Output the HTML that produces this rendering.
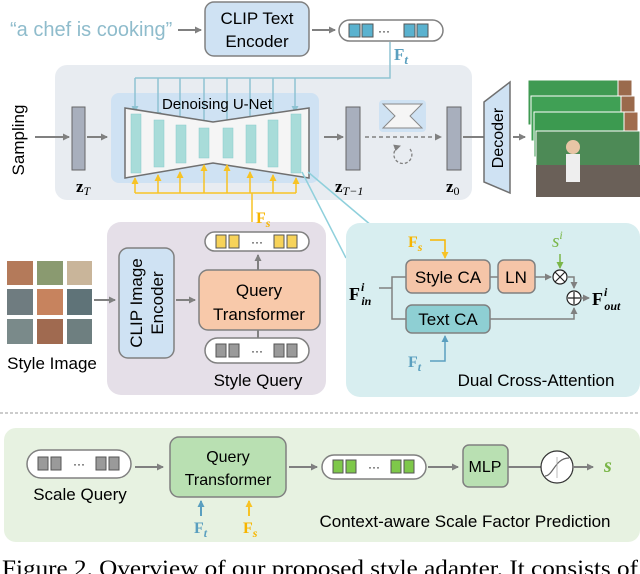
<!DOCTYPE html>
<html><head><meta charset="utf-8"><style>
html,body{margin:0;padding:0;background:#fff;width:640px;height:574px;overflow:hidden}
svg{display:block}
text{font-family:"Liberation Sans",sans-serif}
text.m{font-family:"Liberation Serif",serif;font-weight:bold}
text.sf{font-family:"Liberation Serif",serif}
</style></head><body>
<svg width="640" height="574" viewBox="0 0 640 574" xmlns="http://www.w3.org/2000/svg">
<defs>
<marker id="ag" markerWidth="8" markerHeight="8" refX="6" refY="4" orient="auto" markerUnits="userSpaceOnUse"><path d="M0,0.5 L7,4 L0,7.5z" fill="#808080"/></marker>
<marker id="ab" markerWidth="8" markerHeight="8" refX="6" refY="4" orient="auto" markerUnits="userSpaceOnUse"><path d="M0,0.5 L7,4 L0,7.5z" fill="#8fc3d3"/></marker>
<marker id="ab2" markerWidth="8" markerHeight="8" refX="6" refY="4" orient="auto" markerUnits="userSpaceOnUse"><path d="M0,0.5 L7,4 L0,7.5z" fill="#5a9fbf"/></marker>
<marker id="ay" markerWidth="8" markerHeight="8" refX="6" refY="4" orient="auto" markerUnits="userSpaceOnUse"><path d="M0,0.5 L7,4 L0,7.5z" fill="#f7c325"/></marker>
<marker id="agr" markerWidth="8" markerHeight="8" refX="6" refY="4" orient="auto" markerUnits="userSpaceOnUse"><path d="M0,0.5 L7,4 L0,7.5z" fill="#7ab648"/></marker>
</defs>

<text x="10" y="36" font-size="20" fill="#8fbccc">“a chef is cooking”</text>
<line x1="178" y1="30" x2="201" y2="30" stroke="#808080" stroke-width="2" marker-end="url(#ag)"/>
<rect x="205" y="2" width="104" height="54" rx="9" fill="#cfe2f3" stroke="#808080" stroke-width="1.5"/>
<text x="257" y="24" font-size="17" text-anchor="middle">CLIP Text</text>
<text x="257" y="47" font-size="17" text-anchor="middle">Encoder</text>
<line x1="312" y1="30" x2="335" y2="30" stroke="#808080" stroke-width="2" marker-end="url(#ag)"/>
<rect x="339" y="20" width="104" height="21" rx="10.5" fill="#fff" stroke="#808080" stroke-width="1.5"/>
<rect x="349" y="24" width="11" height="13" fill="#5ab2cf" stroke="#555"/><rect x="362" y="24" width="11" height="13" fill="#5ab2cf" stroke="#555"/>
<text x="384" y="35" font-size="12" text-anchor="middle">···</text>
<rect x="404" y="24" width="11" height="13" fill="#5ab2cf" stroke="#555"/><rect x="417" y="24" width="11" height="13" fill="#5ab2cf" stroke="#555"/>
<text x="394" y="60" font-size="17" class="m" fill="#5a9fbf">F<tspan font-style="italic" font-size="13" dy="4">t</tspan></text>

<rect x="55" y="65" width="417" height="135" rx="12" fill="#e8ecf1"/>
<rect x="111" y="93" width="208" height="90" rx="8" fill="#cfe2f3"/>
<polyline points="390,42 390,78 135,78" fill="none" stroke="#8fc3d3" stroke-width="1.5"/>
<g stroke="#8fc3d3" stroke-width="1.5" marker-end="url(#ab)">
<line x1="135" y1="78" x2="135" y2="112"/><line x1="158" y1="78" x2="158" y2="118"/><line x1="180" y1="78" x2="180" y2="123"/><line x1="204" y1="78" x2="204" y2="126"/>
<line x1="227" y1="78" x2="227" y2="126"/><line x1="250" y1="78" x2="250" y2="123"/><line x1="273" y1="78" x2="273" y2="118"/><line x1="295" y1="78" x2="295" y2="112"/>
</g>
<text x="217" y="109" font-size="15" text-anchor="middle">Denoising U-Net</text>
<polygon points="125,108 213,122 309,108 309,178 213,163 125,178" fill="#f5f5f5" stroke="#707070" stroke-width="1.5"/>
<g fill="#a8dcd9" stroke="#8cc" stroke-width="0.5">
<rect x="131" y="114" width="10" height="59"/><rect x="154" y="120" width="10" height="47"/><rect x="176" y="125" width="10" height="38"/><rect x="199" y="128" width="10" height="30"/>
<rect x="223" y="128" width="10" height="30"/><rect x="246" y="125" width="10" height="38"/><rect x="268" y="120" width="10" height="47"/><rect x="291" y="114" width="10" height="59"/>
</g>
<polyline points="135,193 296,193" fill="none" stroke="#f7c325" stroke-width="1.5"/>
<line x1="252" y1="232" x2="252" y2="193" stroke="#f7c325" stroke-width="1.5"/>
<g stroke="#f7c325" stroke-width="1.5" marker-end="url(#ay)">
<line x1="135" y1="193" x2="135" y2="178"/><line x1="158" y1="193" x2="158" y2="175"/><line x1="180" y1="193" x2="180" y2="172"/><line x1="204" y1="193" x2="204" y2="165"/>
<line x1="227" y1="193" x2="227" y2="165"/><line x1="250" y1="193" x2="250" y2="172"/><line x1="273" y1="193" x2="273" y2="175"/><line x1="296" y1="193" x2="296" y2="178"/>
</g>
<text transform="translate(24,140) rotate(-90)" font-size="17" text-anchor="middle">Sampling</text>
<line x1="35" y1="137" x2="69" y2="137" stroke="#808080" stroke-width="2" marker-end="url(#ag)"/>
<rect x="72" y="107" width="13" height="63" fill="#a8afbd" stroke="#666"/>
<line x1="87" y1="137" x2="107" y2="137" stroke="#808080" stroke-width="2" marker-end="url(#ag)"/>
<text x="76" y="192" font-size="17" class="m">z<tspan font-style="italic" font-weight="normal" font-size="12" dy="3">T</tspan></text>
<line x1="324" y1="137" x2="343" y2="137" stroke="#808080" stroke-width="2" marker-end="url(#ag)"/>
<rect x="346" y="107" width="14" height="63" fill="#a8afbd" stroke="#666"/>
<text x="335" y="192" font-size="17" class="m">z<tspan font-style="italic" font-weight="normal" font-size="12" dy="3">T−1</tspan></text>
<rect x="379" y="100" width="47" height="32" rx="4" fill="#cfe2f3"/>
<polygon points="383,104 422,104 410,116 422,128 383,128 395,116" fill="#f5f5f5" stroke="#888"/>
<line x1="365" y1="137" x2="441" y2="137" stroke="#808080" stroke-width="1.5" stroke-dasharray="4,3" marker-end="url(#ag)"/>
<path d="M410,149 A9,9 0 1,1 400,146" fill="none" stroke="#808080" stroke-width="1.3" stroke-dasharray="3,2" marker-end="url(#ag)"/>
<rect x="447" y="107" width="14" height="63" fill="#a8afbd" stroke="#666"/>
<text x="446" y="192" font-size="17" class="m">z<tspan font-weight="normal" font-size="12" dy="3">0</tspan></text>
<line x1="463" y1="137" x2="484" y2="137" stroke="#808080" stroke-width="2"/>
<polygon points="484,102 510,82 510,193 484,182" fill="#cfe2f3" stroke="#707070" stroke-width="1.5"/>
<text transform="translate(503,138) rotate(-90)" font-size="16" text-anchor="middle">Decoder</text>
<line x1="513" y1="137" x2="525" y2="137" stroke="#808080" stroke-width="2" marker-end="url(#ag)"/>
<g stroke="#fff" stroke-width="1">
<rect x="528" y="80" width="104" height="45" fill="#3f9a52"/><rect x="618" y="80" width="14" height="45" fill="#9a6a4c"/>
<rect x="531" y="96" width="104" height="45" fill="#40a055"/><rect x="621" y="96" width="14" height="45" fill="#9a6a4c"/>
<rect x="534" y="112" width="104" height="45" fill="#3c9a50"/><rect x="624" y="112" width="14" height="45" fill="#a06c4d"/>
<rect x="536" y="131" width="104" height="66" fill="#4d8a56"/>
</g>
<rect x="536" y="165" width="104" height="32" fill="#6a6058"/>
<circle cx="573" cy="147" r="7" fill="#e8c5a5"/><rect x="566" y="154" width="14" height="28" fill="#eee"/>

<line x1="302" y1="172" x2="346" y2="258" stroke="#8fd0dc" stroke-width="1.5"/>
<line x1="308" y1="172" x2="372" y2="226" stroke="#8fd0dc" stroke-width="1.5"/>

<rect x="107" y="222" width="219" height="173" rx="14" fill="#e5dfe8"/>
<g stroke="#fff" stroke-width="2">
<rect x="6" y="260" width="28" height="26" fill="#b47a5a"/><rect x="36" y="260" width="28" height="26" fill="#8a9a70"/><rect x="66" y="260" width="27" height="26" fill="#c9b59a"/>
<rect x="6" y="288" width="28" height="28" fill="#6f7c80"/><rect x="36" y="288" width="28" height="28" fill="#c7835e"/><rect x="66" y="288" width="27" height="28" fill="#5f7378"/>
<rect x="6" y="318" width="28" height="27" fill="#7a8a8a"/><rect x="36" y="318" width="28" height="27" fill="#a06a50"/><rect x="66" y="318" width="27" height="27" fill="#6e7f80"/>
</g>
<text x="52" y="369" font-size="17" text-anchor="middle">Style Image</text>
<line x1="94" y1="300" x2="115" y2="300" stroke="#808080" stroke-width="2" marker-end="url(#ag)"/>
<rect x="119" y="248" width="55" height="110" rx="9" fill="#cfe2f3" stroke="#808080" stroke-width="1.5"/>
<text transform="translate(142,303) rotate(-90)" font-size="17" text-anchor="middle">CLIP Image</text>
<text transform="translate(163,303) rotate(-90)" font-size="17" text-anchor="middle">Encoder</text>
<line x1="176" y1="300" x2="195" y2="300" stroke="#808080" stroke-width="2" marker-end="url(#ag)"/>
<rect x="199" y="270" width="121" height="60" rx="9" fill="#f8c9aa" stroke="#808080" stroke-width="1.5"/>
<text x="259" y="296" font-size="17" text-anchor="middle">Query</text>
<text x="259" y="320" font-size="17" text-anchor="middle">Transformer</text>
<rect x="205" y="232" width="104" height="19" rx="9.5" fill="#fff" stroke="#808080" stroke-width="1.5"/>
<rect x="216" y="235" width="10" height="13" fill="#f7d35a" stroke="#555"/><rect x="229" y="235" width="10" height="13" fill="#f7d35a" stroke="#555"/>
<text x="257" y="246" font-size="12" text-anchor="middle">···</text>
<rect x="274" y="235" width="10" height="13" fill="#f7d35a" stroke="#555"/><rect x="287" y="235" width="10" height="13" fill="#f7d35a" stroke="#555"/>
<line x1="258" y1="270" x2="258" y2="255" stroke="#808080" stroke-width="2" marker-end="url(#ag)"/>
<text x="256" y="223" font-size="16" class="m" fill="#f7b500">F<tspan font-style="italic" font-size="12" dy="4">s</tspan></text>
<line x1="258" y1="330" x2="258" y2="338" stroke="#808080" stroke-width="2"/>
<rect x="205" y="338" width="104" height="25" rx="12.5" fill="#fff" stroke="#808080" stroke-width="1.5"/>
<rect x="216" y="344" width="10" height="13" fill="#9a9a9a" stroke="#555"/><rect x="229" y="344" width="10" height="13" fill="#9a9a9a" stroke="#555"/>
<text x="257" y="355" font-size="12" text-anchor="middle">···</text>
<rect x="274" y="344" width="10" height="13" fill="#9a9a9a" stroke="#555"/><rect x="287" y="344" width="10" height="13" fill="#9a9a9a" stroke="#555"/>
<text x="258" y="386" font-size="17" text-anchor="middle">Style Query</text>

<rect x="346" y="223" width="294" height="174" rx="14" fill="#d8eef0"/>
<text x="349" y="300" font-size="18" class="m">F<tspan font-style="italic" font-size="12" dx="1" dy="-9">i</tspan><tspan font-style="italic" font-size="12" dx="-3" dy="14">in</tspan></text>
<polyline points="379,288 392,288" stroke="#808080" stroke-width="1.5" fill="none"/>
<polyline points="406,277 392,277 392,319 406,319" stroke="#808080" stroke-width="1.5" fill="none"/>
<rect x="406" y="260" width="84" height="33" rx="6" fill="#f5c5a8" stroke="#808080" stroke-width="1.5"/>
<text x="448" y="283" font-size="17" text-anchor="middle">Style CA</text>
<line x1="490" y1="277" x2="498" y2="277" stroke="#808080" stroke-width="1.5"/>
<rect x="498" y="260" width="37" height="33" rx="6" fill="#f5c5a8" stroke="#808080" stroke-width="1.5"/>
<text x="516" y="283" font-size="17" text-anchor="middle">LN</text>
<line x1="535" y1="277" x2="551" y2="277" stroke="#808080" stroke-width="1.5" marker-end="url(#ag)"/>
<text x="408" y="247" font-size="16" class="m" fill="#f7b500">F<tspan font-style="italic" font-size="12" dy="4">s</tspan></text>
<polyline points="430,240 445,240 445,258" stroke="#f7b500" stroke-width="1.5" fill="none" marker-end="url(#ay)"/>
<rect x="406" y="305" width="84" height="28" rx="6" fill="#8ecfd3" stroke="#808080" stroke-width="1.5"/>
<text x="448" y="325" font-size="17" text-anchor="middle">Text CA</text>
<text x="408" y="367" font-size="16" class="m" fill="#5a9fbf">F<tspan font-style="italic" font-size="12" dy="4">t</tspan></text>
<polyline points="430,361 445,361 445,336" stroke="#5a9fbf" stroke-width="1.5" fill="none" marker-end="url(#ab2)"/>
<text x="552" y="247" font-size="19" class="sf" font-style="italic" fill="#7ab648">s<tspan font-size="12" dy="-8">i</tspan></text>
<line x1="560" y1="254" x2="560" y2="268" stroke="#7ab648" stroke-width="1.5" marker-end="url(#agr)"/>
<circle cx="560" cy="277" r="7" fill="#fff" stroke="#222" stroke-width="1.2"/>
<path d="M555,272 L565,282 M565,272 L555,282" stroke="#222" stroke-width="1.2"/>
<polyline points="567,277 574,277 574,288" stroke="#808080" stroke-width="1.5" fill="none" marker-end="url(#ag)"/>
<polyline points="490,319 574,319 574,308" stroke="#808080" stroke-width="1.5" fill="none" marker-end="url(#ag)"/>
<circle cx="574" cy="298" r="7" fill="#fff" stroke="#222" stroke-width="1.2"/>
<path d="M568,298 H580 M574,292 V304" stroke="#222" stroke-width="1.2"/>
<line x1="581" y1="298" x2="589" y2="298" stroke="#808080" stroke-width="1.5" marker-end="url(#ag)"/>
<text x="592" y="305" font-size="18" class="m">F<tspan font-style="italic" font-size="12" dx="1" dy="-9">i</tspan><tspan font-style="italic" font-size="12" dx="-3" dy="14">out</tspan></text>
<text x="536" y="386" font-size="17" text-anchor="middle">Dual Cross-Attention</text>

<line x1="0" y1="413" x2="640" y2="413" stroke="#999" stroke-width="1" stroke-dasharray="3,2"/>

<rect x="4" y="428" width="636" height="114" rx="12" fill="#e7f2e1"/>
<rect x="27" y="450" width="104" height="28" rx="14" fill="#fff" stroke="#808080" stroke-width="1.5"/>
<rect x="38" y="457" width="10" height="13" fill="#9a9a9a" stroke="#555"/><rect x="51" y="457" width="10" height="13" fill="#9a9a9a" stroke="#555"/>
<text x="79" y="468" font-size="12" text-anchor="middle">···</text>
<rect x="96" y="457" width="10" height="13" fill="#9a9a9a" stroke="#555"/><rect x="109" y="457" width="10" height="13" fill="#9a9a9a" stroke="#555"/>
<text x="80" y="500" font-size="17" text-anchor="middle">Scale Query</text>
<line x1="135" y1="467" x2="163" y2="467" stroke="#808080" stroke-width="2" marker-end="url(#ag)"/>
<rect x="170" y="437" width="116" height="60" rx="9" fill="#b9e0b2" stroke="#808080" stroke-width="1.5"/>
<text x="228" y="462" font-size="16" text-anchor="middle">Query</text>
<text x="228" y="485" font-size="16" text-anchor="middle">Transformer</text>
<line x1="201" y1="516" x2="201" y2="501" stroke="#5a9fbf" stroke-width="2" marker-end="url(#ab2)"/>
<line x1="249" y1="516" x2="249" y2="501" stroke="#f7c325" stroke-width="2" marker-end="url(#ay)"/>
<text x="194" y="533" font-size="16" class="m" fill="#5a9fbf">F<tspan font-style="italic" font-size="12" dy="4">t</tspan></text>
<text x="243" y="533" font-size="16" class="m" fill="#f7b500">F<tspan font-style="italic" font-size="12" dy="4">s</tspan></text>
<line x1="289" y1="467" x2="317" y2="467" stroke="#808080" stroke-width="2" marker-end="url(#ag)"/>
<rect x="322" y="455" width="104" height="24" rx="12" fill="#fff" stroke="#808080" stroke-width="1.5"/>
<rect x="333" y="460" width="10" height="13" fill="#7ec84a" stroke="#555"/><rect x="346" y="460" width="10" height="13" fill="#7ec84a" stroke="#555"/>
<text x="374" y="471" font-size="12" text-anchor="middle">···</text>
<rect x="391" y="460" width="10" height="13" fill="#7ec84a" stroke="#555"/><rect x="404" y="460" width="10" height="13" fill="#7ec84a" stroke="#555"/>
<line x1="428" y1="467" x2="458" y2="467" stroke="#808080" stroke-width="2" marker-end="url(#ag)"/>
<rect x="463" y="445" width="45" height="42" rx="6" fill="#b9e0b2" stroke="#808080" stroke-width="1.5"/>
<text x="485" y="472" font-size="16" text-anchor="middle">MLP</text>
<line x1="508" y1="467" x2="541" y2="467" stroke="#808080" stroke-width="2"/>
<circle cx="557" cy="467" r="16" fill="#fff" stroke="#333" stroke-width="1.2"/>
<path d="M545,476 C553,476 555,458 569,458" fill="none" stroke="#666" stroke-width="1.2"/>
<line x1="557" y1="457" x2="557" y2="478" stroke="#aaa" stroke-width="0.8"/>
<line x1="573" y1="467" x2="593" y2="467" stroke="#808080" stroke-width="2" marker-end="url(#ag)"/>
<text x="604" y="472" font-size="20" class="m" font-style="italic" fill="#7ab648">s</text>
<text x="465" y="527" font-size="17" text-anchor="middle">Context-aware Scale Factor Prediction</text>

<text x="2" y="576" font-size="23" class="sf" textLength="636" lengthAdjust="spacingAndGlyphs">Figure 2.  Overview of our proposed style adapter.  It consists of</text>
</svg>
</body></html>
